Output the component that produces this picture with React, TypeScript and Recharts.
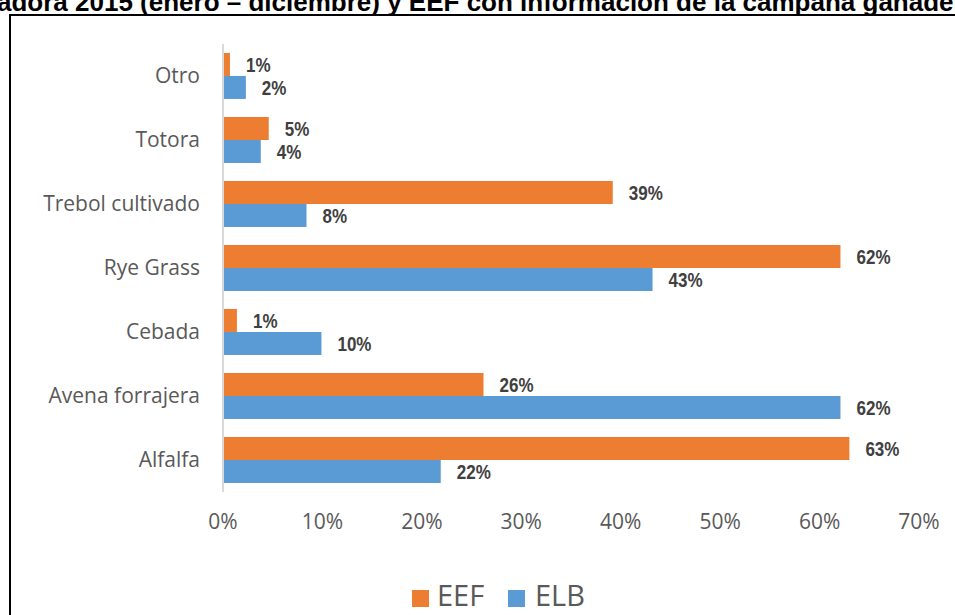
import React from "react";
import {
  BarChart,
  Bar,
  XAxis,
  YAxis,
  Legend,
  LabelList,
} from "recharts";

// categorias (de arriba hacia abajo)
const categories = [
  "Otro",
  "Totora",
  "Trebol cultivado",
  "Rye Grass",
  "Cebada",
  "Avena forrajera",
  "Alfalfa",
];
const eefValues = [0.7, 4.6, 39.2, 62.1, 1.4, 26.2, 63.0];
const elbValues = [2.3, 3.8, 8.4, 43.2, 9.9, 62.1, 21.9];
const xTicks = [0, 10, 20, 30, 40, 50, 60, 70];

const data = categories.map((name, i) => ({
  name,
  eef: eefValues[i],
  elb: elbValues[i],
}));

const ORANGE = "#ED7D31";
const BLUE = "#5B9BD5";
const TICK_FONT = "'Open Sans', sans-serif";

const renderLabel = (props: any) => {
  const { x, y, width, height, value } = props;
  const tx = Number(x) + Number(width) + 16;
  const ty = Number(y) + Number(height) / 2;
  return (
    <text
      transform={`translate(${tx} ${ty}) scale(0.83 1)`}
      x={0}
      y={0}
      dominantBaseline="central"
      fontFamily="'Liberation Sans', Arial, sans-serif"
      fontWeight="bold"
      fontSize={20.5}
      fill="#404040"
    >
      {Math.round(value)}%
    </text>
  );
};

const renderLegend = () => (
  <div style={{ position: "relative", width: 955, height: 30 }}>
    <div style={{ position: "absolute", left: 412, top: 8, width: 17, height: 17, background: ORANGE }} />
    <span
      style={{
        position: "absolute",
        left: 437,
        top: -2,
        fontFamily: TICK_FONT,
        fontSize: 29,
        lineHeight: "29px",
        color: "#595959",
      }}
    >
      EEF
    </span>
    <div style={{ position: "absolute", left: 508, top: 8, width: 17, height: 17, background: BLUE }} />
    <span
      style={{
        position: "absolute",
        left: 535,
        top: -2,
        fontFamily: TICK_FONT,
        fontSize: 29,
        lineHeight: "29px",
        color: "#595959",
      }}
    >
      ELB
    </span>
  </div>
);

export default function App() {
  return (
    <div
      style={{
        position: "absolute",
        left: 0,
        top: 0,
        width: 955,
        height: 615,
        overflow: "hidden",
        background: "#fff",
      }}
    >
      {/* titulo recortado arriba, como en la imagen original */}
      <div
        style={{
          position: "absolute",
          left: -3,
          top: -11,
          whiteSpace: "nowrap",
          fontFamily: "'Liberation Sans', Arial, sans-serif",
          fontWeight: "bold",
          fontSize: 26,
          lineHeight: "26px",
          color: "#000",
        }}
      >
        adora 2015 (enero – diciembre) y EEF con información de la campaña ganadera
      </div>
      <div
        style={{
          position: "absolute",
          left: 9,
          top: 14,
          width: 1000,
          height: 700,
          border: "2px solid #000",
        }}
      />
      <div style={{ position: "absolute", left: 0, top: 0 }}>
        <BarChart
          width={955}
          height={615}
          data={data}
          layout="vertical"
          margin={{ top: 44, right: 36, left: 0, bottom: 3 }}
          barCategoryGap="14%"
          barGap={0}
        >
          <XAxis
            type="number"
            domain={[0, 70]}
            ticks={xTicks}
            tickFormatter={(v) => `${v}%`}
            axisLine={false}
            tickLine={false}
            tickSize={0}
            tickMargin={22}
            height={90}
            tick={{ fill: "#595959", fontSize: 21, fontFamily: TICK_FONT }}
          />
          <YAxis
            type="category"
            dataKey="name"
            width={223}
            axisLine={{ stroke: "#d9d9d9", strokeWidth: 2 }}
            tickLine={false}
            tickSize={0}
            tickMargin={23}
            tick={{ fill: "#595959", fontSize: 21, fontFamily: TICK_FONT }}
          />
          <Legend
            verticalAlign="bottom"
            height={30}
            content={renderLegend}
            wrapperStyle={{ left: 0, bottom: 3, width: 955, height: 30 }}
          />
          <Bar dataKey="eef" name="EEF" fill={ORANGE} isAnimationActive={false}>
            <LabelList dataKey="eef" content={renderLabel} />
          </Bar>
          <Bar dataKey="elb" name="ELB" fill={BLUE} isAnimationActive={false}>
            <LabelList dataKey="elb" content={renderLabel} />
          </Bar>
        </BarChart>
      </div>
    </div>
  );
}
